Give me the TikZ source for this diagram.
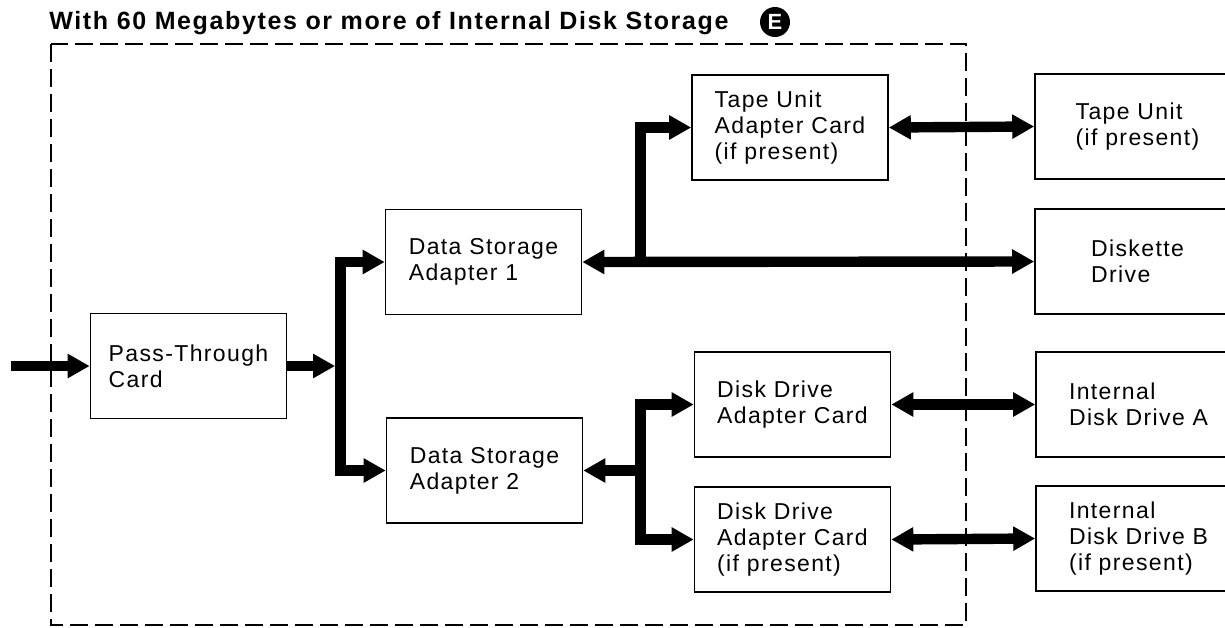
\documentclass[tikz,border=0pt]{standalone}
\usepackage{fontspec}
\setsansfont[LetterSpace=6]{Liberation Sans}
\newfontfamily\titlefont[LetterSpace=6.5]{Liberation Sans}
\renewcommand{\familydefault}{\sfdefault}
\usetikzlibrary{positioning,arrows.meta}

\begin{document}
\begin{tikzpicture}[
    x=0.5pt, y=-0.5pt,
    >={Triangle[length=11pt,width=11.5pt]},
    card/.style={draw, line width=0.8pt, align=left, inner sep=0pt,
        minimum width=98pt, minimum height=52.5pt,
        font=\fontsize{11.5}{13}\selectfont},
    drive/.style={card, minimum width=102.5pt},
    bus/.style={line width=5.2pt, line join=miter}
]
    \useasboundingbox (0,0) rectangle (1225,627);
    \clip (0,0) rectangle (1225,627);

    % Titre et repere
    \node[anchor=base west, inner sep=0pt,
        font=\titlefont\bfseries\fontsize{12.5}{15}\selectfont] (title) at (49,29)
        {With 60 Megabytes or more of Internal Disk Storage};
    \node[circle, fill=black, text=white, inner sep=0pt, minimum size=15pt,
        font=\titlefont\bfseries\fontsize{11}{13}\selectfont] (mark) at (775,22) {E};

    % Cadre du stockage interne
    \draw[line width=1pt, dash pattern=on 9pt off 3.5pt] (51,44) rectangle (966,625);

    % Cartes
    \node[card] (ptc)  at (188.5,366) {Pass-Through\\Card};
    \node[card] (dsa1) at (483.5,262) {Data Storage\\Adapter 1};
    \node[card] (dsa2) at (484.5,470.5) {Data Storage\\Adapter 2};
    \node[card] (tua)  at (790,127.5) {Tape Unit\\Adapter Card\\(if present)};
    \node[card] (dda1) at (792.5,404.5) {Disk Drive\\Adapter Card};
    \node[card] (dda2) at (792.5,539.5) {Disk Drive\\Adapter Card\\(if present)};

    % Unites externes au cadre
    \node[drive] (tu)   at (1137.5,126.5) {Tape Unit\\(if present)};
    \node[drive] (dsk)  at (1137.5,261.5) {Diskette\\Drive};
    \node[drive] (idda) at (1138.5,404.5) {Internal\\Disk Drive A};
    \node[drive] (iddb) at (1138.5,538.5) {Internal\\Disk Drive B\\(if present)};

    % Bus d'entree
    \coordinate (feed) at (11,366);
    \draw[bus,->] (feed) -- (ptc.west);
    \path (ptc.east) ++(53,0) coordinate (j1);
    \draw[bus,->,shorten >=2.6pt] (ptc.east) -- (j1);
    \draw[bus,->] (j1) |- (dsa1.west);
    \draw[bus,->] (j1) |- (dsa2.west);

    % Bus de l'adaptateur 1
    \draw[bus,<->] (dsa1.east) -- (dsk.west);
    \path (dsa1.east) ++(58,0) coordinate (j3);
    \draw[bus,->] (j3) |- (tua.west);
    \draw[bus,<->] (tua.east) -- (tu.west);

    % Bus de l'adaptateur 2
    \draw[bus,<-] (dsa2.east) -- ++(57,0) coordinate (j2);
    \draw[bus,->] (j2) |- (dda1.west);
    \draw[bus,->] (j2) |- (dda2.west);
    \draw[bus,<->] (dda1.east) -- (idda.west);
    \draw[bus,<->] (dda2.east) -- (iddb.west);

\end{tikzpicture}
\end{document}
